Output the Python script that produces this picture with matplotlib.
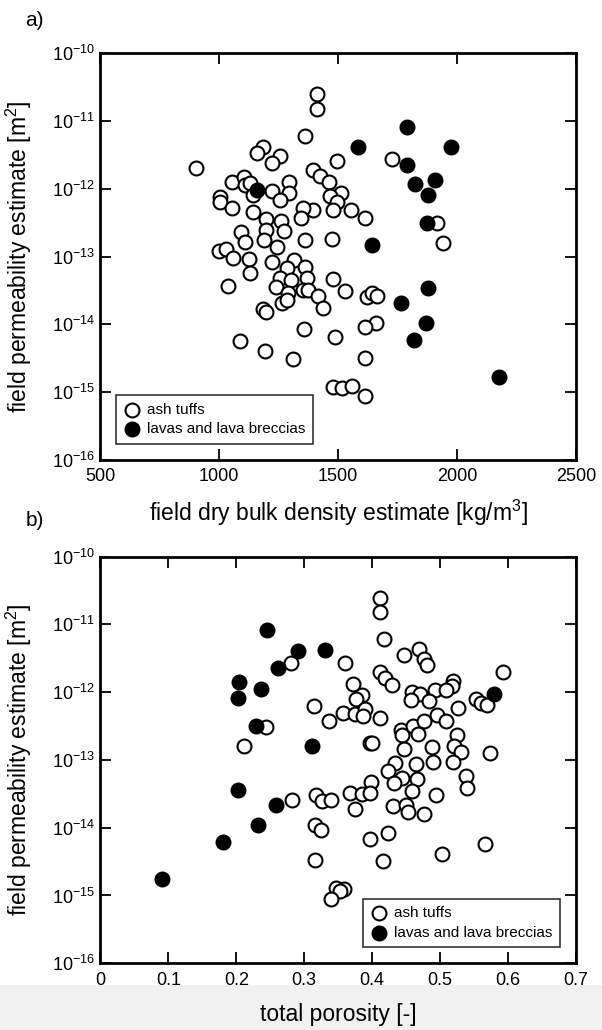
import numpy as np
import matplotlib.pyplot as plt
from matplotlib.patches import Rectangle
from matplotlib.ticker import NullLocator

plt.rcParams['font.family'] = ['Liberation Sans', 'DejaVu Sans']
plt.rcParams['mathtext.fontset'] = 'custom'
plt.rcParams['mathtext.rm'] = 'Liberation Sans'
plt.rcParams['mathtext.it'] = 'Liberation Sans:italic'
plt.rcParams['mathtext.bf'] = 'Liberation Sans:bold'
plt.rcParams['axes.unicode_minus'] = False

# ---- panel a: density vs permeability ----
ash_density = [1409, 1409, 1362, 904, 1183, 1157, 1254, 1222, 1493, 1396,
               1725, 1423, 1460, 1053, 1103, 1109, 1130, 1294, 1222, 1294,
               1512, 1001, 1001, 1053, 1141, 1254, 1467, 1496, 1480, 1552,
               1614, 1394, 1354, 1343, 1141, 1195, 1259, 1195, 1090, 1270,
               1109, 1186, 1241, 1362, 1472, 1915, 1942, 1000, 1029, 1058,
               1125, 1222, 1315, 1362, 1286, 1130, 1037, 1254, 1303, 1367,
               1238, 1290, 1351, 1375, 1415, 1436, 1480, 1528, 1262, 1286,
               1182, 1195, 1622, 1641, 1662, 1657, 1612, 1356, 1488, 1087,
               1193, 1311, 1612, 1477, 1517, 1557, 1612]
ash_perm_a = [2.5e-11, 1.5e-11, 6.0e-12, 2.0e-12, 4.2e-12, 3.4e-12, 3.0e-12, 2.4e-12, 2.6e-12, 1.9e-12,
              2.8e-12, 1.55e-12, 1.28e-12, 1.28e-12, 1.5e-12, 1.13e-12, 1.2e-12, 1.28e-12, 9.4e-13, 8.6e-13,
              8.8e-13, 7.7e-13, 6.5e-13, 5.3e-13, 8.1e-13, 6.9e-13, 7.9e-13, 6.5e-13, 4.8e-13, 4.9e-13,
              3.7e-13, 4.8e-13, 5.3e-13, 3.7e-13, 4.5e-13, 3.6e-13, 3.3e-13, 2.5e-13, 2.3e-13, 2.4e-13,
              1.66e-13, 1.76e-13, 1.4e-13, 1.76e-13, 1.8e-13, 3.1e-13, 1.6e-13, 1.22e-13, 1.3e-13, 9.4e-14,
              9.1e-14, 8.4e-14, 8.9e-14, 7.1e-14, 6.7e-14, 5.7e-14, 3.7e-14, 4.8e-14, 4.5e-14, 4.8e-14,
              3.6e-14, 2.9e-14, 3.2e-14, 3.2e-14, 2.6e-14, 1.77e-14, 4.6e-14, 3.1e-14, 2.1e-14, 2.3e-14,
              1.69e-14, 1.5e-14, 2.5e-14, 2.9e-14, 2.6e-14, 1.06e-14, 9.1e-15, 8.5e-15, 6.6e-15, 5.7e-15,
              4.1e-15, 3.1e-15, 3.2e-15, 1.18e-15, 1.17e-15, 1.25e-15, 8.8e-16]

lava_density = [1582, 1788, 1975, 1788, 1823, 1907, 1879, 1875, 1157, 1641,
                1879, 1763, 1869, 1819, 2178]
lava_perm_a = [4.1e-12, 8.1e-12, 4.1e-12, 2.25e-12, 1.18e-12, 1.35e-12, 8.1e-13, 3.1e-13, 9.5e-13, 1.5e-13,
               3.5e-14, 2.1e-14, 1.06e-14, 5.9e-15, 1.7e-15]

# ---- panel b: porosity vs permeability ----
ash_poro = [0.412, 0.412, 0.417, 0.447, 0.469, 0.477, 0.481, 0.281, 0.360, 0.411,
            0.419, 0.429, 0.372, 0.385, 0.376, 0.593, 0.519, 0.518, 0.492, 0.509,
            0.459, 0.470, 0.457, 0.484, 0.553, 0.560, 0.569, 0.526, 0.495, 0.509,
            0.315, 0.357, 0.374, 0.390, 0.387, 0.411, 0.337, 0.243, 0.212, 0.397,
            0.400, 0.442, 0.444, 0.460, 0.476, 0.467, 0.525, 0.521, 0.488, 0.447,
            0.531, 0.574, 0.433, 0.464, 0.490, 0.519, 0.423, 0.444, 0.466, 0.538,
            0.540, 0.398, 0.432, 0.459, 0.367, 0.385, 0.397, 0.282, 0.318, 0.326,
            0.340, 0.374, 0.430, 0.450, 0.453, 0.476, 0.494, 0.316, 0.325, 0.423,
            0.397, 0.566, 0.503, 0.316, 0.416, 0.347, 0.358, 0.352, 0.339]
ash_perm_b = [2.45e-11, 1.5e-11, 6.0e-12, 3.5e-12, 4.3e-12, 3.05e-12, 2.5e-12, 2.7e-12, 2.7e-12, 2.0e-12,
              1.6e-12, 1.27e-12, 1.34e-12, 9.0e-13, 7.9e-13, 2.0e-12, 1.47e-12, 1.24e-12, 1.08e-12, 1.08e-12,
              9.9e-13, 9.3e-13, 7.6e-13, 7.5e-13, 7.9e-13, 7.0e-13, 6.4e-13, 5.8e-13, 4.6e-13, 3.8e-13,
              6.3e-13, 5.0e-13, 4.75e-13, 5.6e-13, 4.5e-13, 4.1e-13, 3.8e-13, 3.1e-13, 1.63e-13, 1.79e-13,
              1.75e-13, 2.8e-13, 2.3e-13, 3.2e-13, 3.7e-13, 2.4e-13, 2.3e-13, 1.63e-13, 1.54e-13, 1.46e-13,
              1.3e-13, 1.27e-13, 9.1e-14, 8.6e-14, 9.4e-14, 9.4e-14, 6.9e-14, 5.5e-14, 5.3e-14, 5.8e-14,
              3.9e-14, 4.7e-14, 4.5e-14, 3.5e-14, 3.2e-14, 3.1e-14, 3.3e-14, 2.6e-14, 3.0e-14, 2.5e-14,
              2.6e-14, 1.9e-14, 2.1e-14, 2.2e-14, 1.68e-14, 1.6e-14, 3.0e-14, 1.09e-14, 9.2e-15, 8.4e-15,
              6.8e-15, 5.8e-15, 4.1e-15, 3.3e-15, 3.2e-15, 1.29e-15, 1.23e-15, 1.18e-15, 9.0e-16]

lava_poro = [0.245, 0.291, 0.331, 0.261, 0.204, 0.203, 0.236, 0.229, 0.311, 0.579,
             0.202, 0.259, 0.232, 0.181, 0.090]
lava_perm_b = [8.2e-12, 4.0e-12, 4.2e-12, 2.25e-12, 1.42e-12, 8.1e-13, 1.13e-12, 3.2e-13, 1.58e-13, 9.5e-13,
               3.6e-14, 2.15e-14, 1.09e-14, 6.1e-15, 1.76e-15]

perm_ticks = [1e-16, 1e-15, 1e-14, 1e-13, 1e-12, 1e-11, 1e-10]
perm_ticklabels = ['$10^{-16}$', '$10^{-15}$', '$10^{-14}$', '$10^{-13}$',
                   '$10^{-12}$', '$10^{-11}$', '$10^{-10}$']
labels = ['ash tuffs', 'lavas and lava breccias']
ylabel = 'field permeability estimate [m$^2$]'

fig = plt.figure(figsize=(6.02, 10.3), dpi=100)
# light grey strip along the bottom of the screenshot
fig.patches.append(Rectangle((0, 0), 1, 0.044, transform=fig.transFigure,
                             facecolor='#f1f1f1', edgecolor='none', zorder=-10))

ax1 = fig.add_axes([0.1668, 0.5534, 0.790, 0.3949])
ax2 = fig.add_axes([0.1668, 0.0648, 0.790, 0.3948])


def draw(ax, xa, ya, xl, yl, xlim, xticks, xticklabels, xlabel, xlab_y, loc):
    ax.scatter(xa, ya, s=100, facecolors='white', edgecolors='black',
               linewidths=1.5, zorder=3, label=labels[0])
    ax.scatter(xl, yl, s=100, facecolors='black', edgecolors='black',
               linewidths=1.5, zorder=4, label=labels[1])
    ax.set_yscale('log')
    ax.set_ylim(1e-16, 1e-10)
    ax.set_yticks(perm_ticks)
    ax.set_yticklabels(perm_ticklabels)
    ax.yaxis.set_minor_locator(NullLocator())
    ax.set_xlim(*xlim)
    ax.set_xticks(xticks)
    ax.set_xticklabels(xticklabels)
    ax.tick_params(which='both', direction='in', top=True, right=True,
                   length=8, width=1.3, labelsize=13)
    ax.tick_params(axis='x', pad=6)
    ax.tick_params(axis='y', pad=4)
    for sp in ax.spines.values():
        sp.set_linewidth(2.0)
    ax.set_xlabel(xlabel, fontsize=16.5)
    ax.xaxis.set_label_coords(0.5, xlab_y)
    ax.set_ylabel(ylabel, fontsize=16.5)
    ax.yaxis.set_label_coords(-0.14, 0.5)
    leg = ax.legend(loc=loc, fontsize=11, frameon=True, fancybox=False,
                    framealpha=1, edgecolor='#333333', borderpad=0.5,
                    labelspacing=0.35, handlelength=1.0, handletextpad=0.5,
                    borderaxespad=1.05, scatterpoints=1)
    leg.get_frame().set_linewidth(1.2)


draw(ax1, ash_density, ash_perm_a, lava_density, lava_perm_a,
     (500, 2500), [500, 1000, 1500, 2000, 2500],
     ['500', '1000', '1500', '2000', '2500'],
     'field dry bulk density estimate [kg/m$^3$]', -0.093, 'lower left')

draw(ax2, ash_poro, ash_perm_b, lava_poro, lava_perm_b,
     (0, 0.7), [0, 0.1, 0.2, 0.3, 0.4, 0.5, 0.6, 0.7],
     ['0', '0.1', '0.2', '0.3', '0.4', '0.5', '0.6', '0.7'],
     'total porosity [-]', -0.098, 'lower right')

fig.text(34.5 / 602, 1 - 20 / 1030, 'a)', fontsize=15, ha='center', va='center')
fig.text(34.5 / 602, 1 - 520 / 1030, 'b)', fontsize=15, ha='center', va='center')

fig.savefig('out.png', dpi=100)
